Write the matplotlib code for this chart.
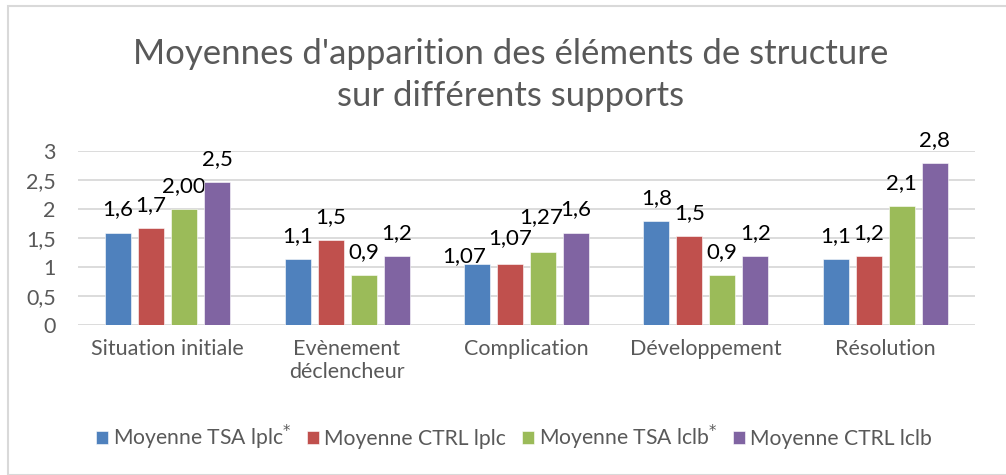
import numpy as np
import matplotlib.pyplot as plt
from matplotlib.patches import Rectangle

plt.rcParams['font.family'] = ['Lato', 'DejaVu Sans']

categories = ['Situation initiale', 'Evènement\ndéclencheur', 'Complication',
              'Développement', 'Résolution']
series_names = ['Moyenne TSA lplc$^{*}$', 'Moyenne CTRL lplc',
                'Moyenne TSA lclb$^{*}$', 'Moyenne CTRL lclb']
tsa_lplc = [1.59, 1.13, 1.055, 1.79, 1.13]
ctrl_lplc = [1.66, 1.46, 1.055, 1.53, 1.19]
tsa_lclb = [1.99, 0.86, 1.256, 0.86, 2.05]
ctrl_lclb = [2.46, 1.19, 1.59, 1.19, 2.79]
labels_tsa_lplc = ['1,6', '1,1', '1,07', '1,8', '1,1']
labels_ctrl_lplc = ['1,7', '1,5', '1,07', '1,5', '1,2']
labels_tsa_lclb = ['2,00', '0,9', '1,27', '0,9', '2,1']
labels_ctrl_lclb = ['2,5', '1,2', '1,6', '1,2', '2,8']
yticks = [0, 0.5, 1, 1.5, 2, 2.5, 3]
ytick_labels = ['0', '0,5', '1', '1,5', '2', '2,5', '3']

colors = ['#4F81BD', '#C0504D', '#9BBB59', '#8064A2']
values = [tsa_lplc, ctrl_lplc, tsa_lclb, ctrl_lclb]
labels = [labels_tsa_lplc, labels_ctrl_lplc, labels_tsa_lclb, labels_ctrl_lclb]

# labels moved by hand in the original (series, category) -> (dx, dy) in pixels
nudges = {(0, 2): (-13, -15), (1, 2): (0, 3), (2, 2): (-2, 12)}

fig = plt.figure(figsize=(10.06, 4.75), dpi=100)
ax = fig.add_axes([0.0775, 0.316, 0.8915, 0.367])

# light frame around the chart
fig.patches.append(Rectangle((8 / 1006, 0), 1.1, (475 - 6) / 475, transform=fig.transFigure,
                             fill=False, edgecolor='#D9D9D9', linewidth=1.5))

x = np.arange(len(categories))
step = 0.184
width = 0.145
for i, (vals, labs, col, name) in enumerate(zip(values, labels, colors, series_names)):
    pos = x + (i - 1.5) * step
    bars = ax.bar(pos, vals, width, color=col, label=name, edgecolor='white', linewidth=0.4, zorder=3)
    for j, (b, lab) in enumerate(zip(bars, labs)):
        dx, dy = nudges.get((i, j), (0, 0))
        ax.annotate(lab, (b.get_x() + b.get_width() / 2, b.get_height()),
                    xytext=(dx * 0.72, (17 + dy) * 0.72), textcoords='offset points',
                    ha='center', va='baseline',
                    fontsize=16, color='black', annotation_clip=False)

ax.set_xlim(-0.5, 4.5)
ax.set_ylim(0, 3)
ax.set_yticks(yticks)
ax.set_yticklabels(ytick_labels)
ax.set_xticks(x)
ax.set_xticklabels(categories, linespacing=1.2, va='top')
ax.tick_params(axis='both', length=0, labelsize=15.5, colors='#595959')
ax.tick_params(axis='x', pad=10)
ax.tick_params(axis='y', pad=16)
ax.grid(axis='y', color='#D9D9D9', linewidth=1.3, zorder=0)
ax.set_axisbelow(True)
for s in ax.spines.values():
    s.set_visible(False)

fig.text(0.508, 0.842, "Moyennes d'apparition des éléments de structure\nsur différents supports",
         ha='center', va='center', fontsize=25, color='#595959', linespacing=1.4)

fig.legend(loc='center', bbox_to_anchor=(0.511, 0.08), ncol=4, frameon=False,
           fontsize=15.2, handlelength=0.55, handleheight=0.55, handletextpad=0.25,
           columnspacing=0.75, labelcolor='#595959')

plt.savefig('out.png', dpi=100)
